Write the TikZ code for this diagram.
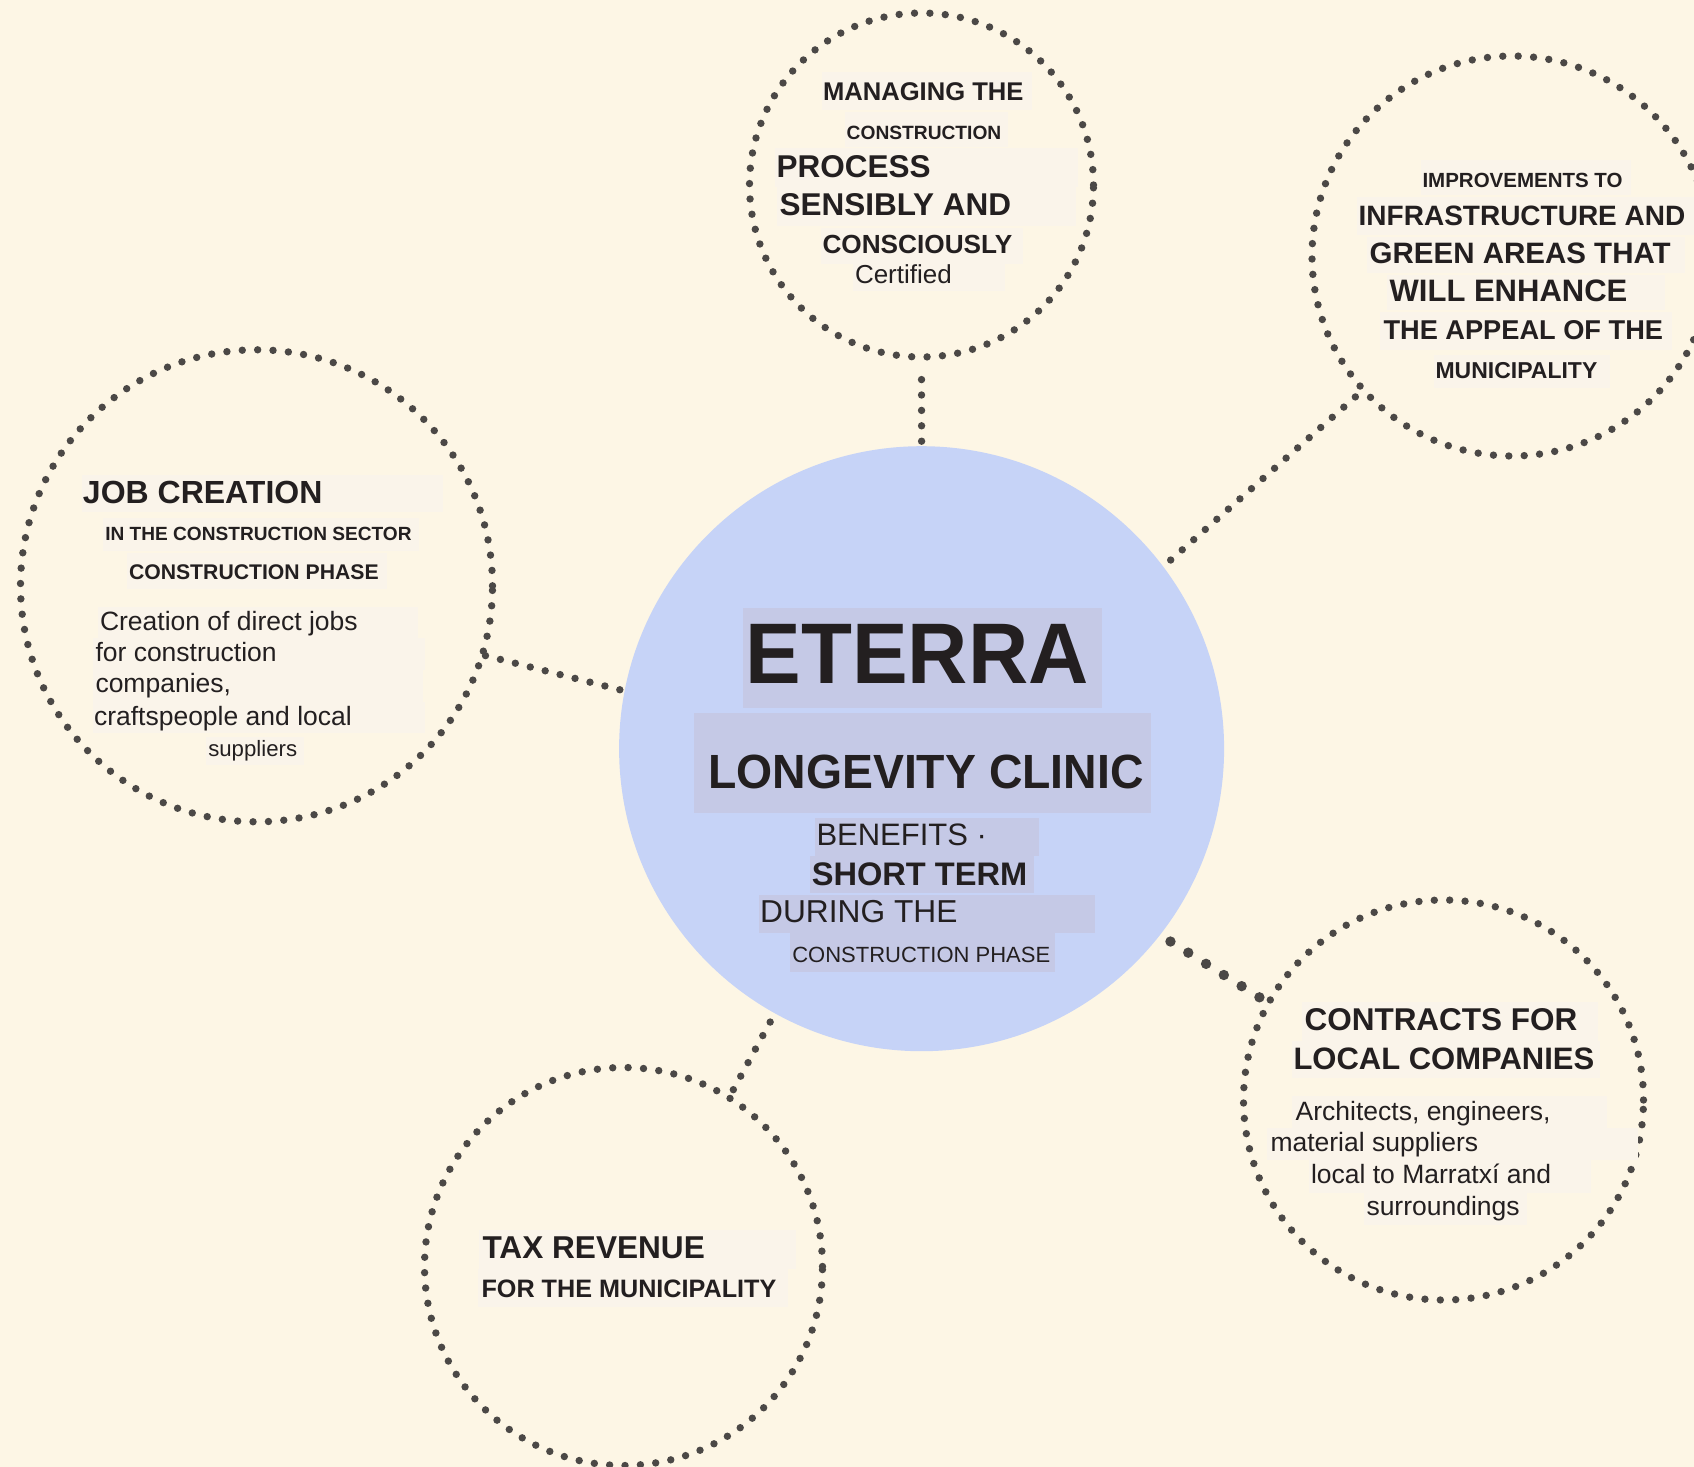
\documentclass[tikz,border=0pt]{standalone}
\usepackage{fontspec}
\setmainfont{Liberation Sans}
\usepackage{graphicx}
\definecolor{bgc}{RGB}{253,246,229}
\definecolor{boxc}{RGB}{250,244,234}
\definecolor{cblue}{RGB}{198,211,247}
\definecolor{cbox}{RGB}{197,201,230}
\definecolor{dotc}{RGB}{75,72,70}
\definecolor{ink}{RGB}{35,31,32}
\tikzset{
  dotring/.style={circle, draw=dotc, line width=3.7pt, dash pattern=on 0pt off 7.7pt, line cap=round, inner sep=0pt, outer sep=0pt},
  conn/.style={draw=dotc, line width=3.7pt, dash pattern=on 0pt off 7.7pt, line cap=round},
  connbig/.style={draw=dotc, line width=5.2pt, dash pattern=on 0pt off 10.5pt, line cap=round},
  lbl/.style={anchor=base west, inner sep=0pt, outer sep=0pt, text=ink},
  rg/.style={lbl, font=\fontsize{#1}{#1}\selectfont},
  bd/.style={lbl, font=\bfseries\fontsize{#1}{#1}\selectfont}
}
\begin{document}
\begin{tikzpicture}[x=0.5pt,y=-0.5pt]
\useasboundingbox (0,0) rectangle (1694,1467);
\clip (0,0) rectangle (1694,1467);
\fill[bgc] (0,0) rectangle (1694,1467);

% central circle
\node[circle, fill=cblue, inner sep=0pt, outer sep=0pt, minimum size=302.5pt] (c) at (921.6,748.7) {};

% outer dotted circles
\node[dotring, minimum size=172pt] (t) at (921.5,185) {};
\node[dotring, minimum size=200pt] (tr) at (1512,256) {};
\node[dotring, minimum size=236pt] (l) at (256.5,585.8) {};
\node[dotring, minimum size=200pt] (br) at (1443.5,1100) {};
\node[dotring, minimum size=199pt] (b) at (623.5,1266.5) {};

% connectors
\draw[conn, shorten <=2.5pt, shorten >=4pt] (c.90) -- (t.270);
\draw[conn, shorten <=5pt] (c.37.4) -- (tr.222);
\draw[conn, shorten <=2.5pt] (c.169.5) -- (l.343.2);
\draw[connbig, shorten <=6.2pt] (c.322.6) -- (br.151);
\draw[conn, shorten <=5pt] (c.241.8) -- (b.58.3);

% ---------- top circle ----------
\fill[boxc] (821.7,71.7) rectangle (1031.7,110);
\fill[boxc] (845,111.7) rectangle (1008,146.7);
\fill[boxc] (775,148) rectangle (1078,186.7);
\fill[boxc] (777,186.7) rectangle (1076,226);
\fill[boxc] (820.7,228.3) rectangle (1023,264);
\fill[boxc] (852.7,263) rectangle (1005,290.7);
\node[bd=12.8] (t1) at (823,100) {MANAGING THE};
\node[bd=9.6] (t2) at (846.7,139.6) {CONSTRUCTION};
\node[bd=15.75] (t3) at (776.5,177) {PROCESS};
\node[bd=15.75] (t4) at (779.5,215) {SENSIBLY AND};
\node[bd=13.1] (t5) at (822.5,253.4) {CONSCIOUSLY};
\node[rg=13] (t6) at (855,283.3) {Certified};

% ---------- top-right circle ----------
\fill[boxc] (1420.7,160) rectangle (1630.7,195);
\fill[boxc] (1356.7,196.7) rectangle (1694,235);
\fill[boxc] (1366.7,236.7) rectangle (1685,273.3);
\fill[boxc] (1386.7,275) rectangle (1665,310);
\fill[boxc] (1380,311.7) rectangle (1671.7,350);
\fill[boxc] (1434,355) rectangle (1610,388.3);
\node[bd=10.25] (r1) at (1422.5,187) {IMPROVEMENTS TO};
\node[bd=14] (r2) at (1358.7,225.3) {INFRASTRUCTURE AND};
\node[bd=14.75] (r3) at (1369.7,263.9) {GREEN AREAS THAT};
\node[bd=15.5] (r4) at (1389.7,301.4) {WILL ENHANCE};
\node[bd=13.6] (r5) at (1383.5,339.7) {THE APPEAL OF THE};
\node[bd=11.5] (r6) at (1435.5,378.8) {MUNICIPALITY};

% ---------- left circle ----------
\fill[boxc] (81.7,475) rectangle (443.3,511.7);
\fill[boxc] (103.3,518.3) rectangle (419.3,550.7);
\fill[boxc] (126.7,553.3) rectangle (387.3,589.3);
\fill[boxc] (98.3,606.7) rectangle (418.3,638.3);
\fill[boxc] (93.3,638.3) rectangle (425,670);
\fill[boxc] (93.3,670) rectangle (423.3,701.7);
\fill[boxc] (93.3,701.7) rectangle (425,733.3);
\fill[boxc] (206,736.7) rectangle (304,765);
\node[bd=16] (l1) at (83,503.2) {JOB CREATION};
\node[bd=9.55] (l2) at (105.3,540.8) {IN THE CONSTRUCTION SECTOR};
\node[bd=10.6] (l3) at (129,579.9) {CONSTRUCTION PHASE};
\node[rg=13.25] (l4) at (100,630) {Creation of direct jobs};
\node[rg=13.25] (l5) at (95.5,661.7) {for construction};
\node[rg=13.25] (l6) at (95.5,692.7) {companies,};
\node[rg=13.25] (l7) at (94,725) {craftspeople and local};
\node[rg=11.1] (l8) at (208.3,756.7) {suppliers};

% ---------- centre ----------
\fill[cbox] (743.3,608.3) rectangle (1101.7,708.3);
\fill[cbox] (694,712.7) rectangle (1151,812.7);
\fill[cbox] (815,818.3) rectangle (1039,856);
\fill[cbox] (810,856) rectangle (1034.3,893.3);
\fill[cbox] (759,895) rectangle (1095,932.7);
\fill[cbox] (790,933.3) rectangle (1055,971.7);
\node[bd=43] (c1) at (745.6,683.3) {\scalebox{0.97}[1]{ETERRA}};
\node[bd=24] (c2) at (708.2,788.3) {\scalebox{0.966}[1]{LONGEVITY CLINIC}};
\node[rg=15.5] (c3) at (816.5,845.7) {BENEFITS ·};
\node[bd=16.3] (c4) at (811.8,885) {SHORT TERM};
\node[rg=15.85] (c5) at (760.2,922.7) {DURING THE};
\node[rg=11] (c6) at (792.3,962.7) {CONSTRUCTION PHASE};

% ---------- bottom-right circle ----------
\fill[boxc] (1301.7,1001.7) rectangle (1598.3,1040.7);
\fill[boxc] (1291.7,1040.7) rectangle (1600,1078.3);
\fill[boxc] (1291.7,1096) rectangle (1607.3,1128.3);
\fill[boxc] (1267.3,1128.3) rectangle (1638.3,1160);
\fill[boxc] (1309.3,1160) rectangle (1590.7,1192.7);
\fill[boxc] (1364.3,1192.7) rectangle (1526.7,1225);
\node[bd=15.75] (k1) at (1304.5,1030) {CONTRACTS FOR};
\node[bd=15.5] (k2) at (1293.5,1069.3) {LOCAL COMPANIES};
\node[rg=13.25] (k3) at (1295.7,1120) {Architects, engineers,};
\node[rg=13.25] (k4) at (1270.5,1151.7) {material suppliers};
\node[rg=13.25] (k5) at (1311,1183.3) {local to Marratxí and};
\node[rg=13.25] (k6) at (1366.5,1215) {surroundings};

% ---------- bottom circle ----------
\fill[boxc] (479.3,1230) rectangle (796,1269.3);
\fill[boxc] (478.3,1269.3) rectangle (788.3,1306.7);
\node[bd=15.8] (x1) at (482.5,1258.3) {TAX REVENUE};
\node[bd=12.6] (x2) at (481.5,1297.7) {FOR THE MUNICIPALITY};
\end{tikzpicture}
\end{document}
